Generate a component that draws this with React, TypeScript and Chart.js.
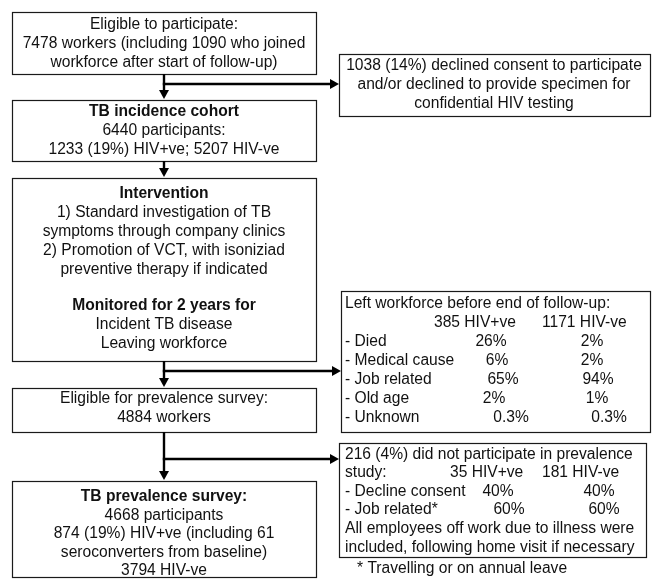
import React, { useEffect, useRef } from "react";
import { Chart, registerables } from "chart.js";

Chart.register(...registerables);

// ---------- DATA (text content of the flow diagram) ----------
const eligibleLines = [
  "Eligible to participate:",
  "7478 workers (including 1090 who joined",
  "workforce after start of follow-up)",
];
const cohortLines = [
  "TB incidence cohort",
  "6440 participants:",
  "1233 (19%) HIV+ve; 5207 HIV-ve",
];
const interventionLines = [
  "Intervention",
  "1) Standard investigation of TB",
  "symptoms through company clinics",
  "2) Promotion of VCT, with isoniziad",
  "preventive therapy if indicated",
  "Monitored for 2 years for",
  "Incident TB disease",
  "Leaving workforce",
];
const prevEligibleLines = ["Eligible for prevalence survey:", "4884 workers"];
const prevSurveyLines = [
  "TB prevalence survey:",
  "4668 participants",
  "874 (19%) HIV+ve (including 61",
  "seroconverters from baseline)",
  "3794 HIV-ve",
];
const declinedLines = [
  "1038 (14%) declined consent to participate",
  "and/or declined to provide specimen for",
  "confidential HIV testing",
];
const leftTitle = "Left workforce before end of follow-up:";
const leftGroups = ["385 HIV+ve", "1171 HIV-ve"];
const leftCategories = ["- Died", "- Medical cause", "- Job related", "- Old age", "- Unknown"];
const leftHivPos = ["26%", "6%", "65%", "2%", "0.3%"];
const leftHivNeg = ["2%", "2%", "94%", "1%", "0.3%"];
const nonPartTitle = "216 (4%) did not participate in prevalence";
const nonPartLead = "study:";
const nonPartGroups = ["35 HIV+ve", "181 HIV-ve"];
const nonPartCategories = ["- Decline consent", "- Job related*"];
const nonPartHivPos = ["40%", "60%"];
const nonPartHivNeg = ["40%", "60%"];
const nonPartNotes = [
  "All employees off work due to illness were",
  "included, following home visit if necessary",
];
const footnote = "* Travelling or on annual leave";

// ---------- LAYOUT (diagram coordinates, same units as the scales) ----------
const W = 652;
const H = 585;
const MAIN_X = 164;
const FONT_SIZE = 15.6;
const boxes = {
  b1: [12, 12, 316, 74],
  b2: [12, 100, 316, 161],
  b3: [12, 178, 316, 361],
  b4: [12, 388, 316, 432],
  b5: [12, 481, 316, 577],
  r1: [339, 54, 650, 116],
  r2: [341, 291, 650, 432],
  r3: [339, 443, 646, 557],
};
const rowsB1 = [25, 44, 63];
const rowsB2 = [112, 131, 150];
const rowsB3 = [194, 213, 232, 251, 270, 306, 325, 344];
const boldB3 = [true, false, false, false, false, true, false, false];
const rowsB4 = [399, 418];
const rowsB5 = [497, 516, 534, 553, 571];
const rowsR1 = [66, 85, 104];
const rowsR2 = [304, 323, 342, 361, 380, 399, 418];
const rowsR3 = [455, 473, 492, 510, 529, 548];
const leftPosX = [491, 497, 503, 494, 511];
const leftNegX = [592, 592, 598, 597, 609];
const nonPartPosX = [498, 509];
const nonPartNegX = [599, 604];
const arrows = [
  { x: MAIN_X, y1: 74, y2: 99, branchY: 84, branchTo: 339 },
  { x: MAIN_X, y1: 161, y2: 177 },
  { x: MAIN_X, y1: 361, y2: 387, branchY: 371, branchTo: 341 },
  { x: MAIN_X, y1: 432, y2: 480, branchY: 459, branchTo: 339 },
];

const FONT = '"Liberation Sans", Arial, Helvetica, sans-serif';

const flowPlugin = {
  id: "flow",
  afterDraw(chart: any) {
    const ctx = chart.ctx as CanvasRenderingContext2D;
    const xs = chart.scales.x;
    const ys = chart.scales.y;
    const px = (v: number) => xs.getPixelForValue(v);
    const py = (v: number) => ys.getPixelForValue(v);

    ctx.save();
    ctx.fillStyle = "#ffffff";
    ctx.fillRect(0, 0, chart.width, chart.height);

    // boxes
    ctx.strokeStyle = "#1a1a1a";
    ctx.lineWidth = 1.2;
    Object.values(boxes).forEach(([x1, y1, x2, y2]) => {
      const a = Math.round(px(x1)) + 0.5;
      const b = Math.round(py(y1)) + 0.5;
      const c = Math.round(px(x2)) + 0.5;
      const d = Math.round(py(y2)) + 0.5;
      ctx.strokeRect(a, b, c - a, d - b);
    });

    // arrows
    ctx.strokeStyle = "#000";
    ctx.fillStyle = "#000";
    ctx.lineWidth = 2.4;
    const head = 9;
    const half = 5;
    arrows.forEach((ar) => {
      const x = px(ar.x);
      ctx.beginPath();
      ctx.moveTo(x, py(ar.y1));
      ctx.lineTo(x, py(ar.y2) - head + 1);
      ctx.stroke();
      ctx.beginPath();
      ctx.moveTo(x - half, py(ar.y2) - head);
      ctx.lineTo(x + half, py(ar.y2) - head);
      ctx.lineTo(x, py(ar.y2));
      ctx.closePath();
      ctx.fill();
      if (ar.branchY !== undefined && ar.branchTo !== undefined) {
        const y = py(ar.branchY);
        const xt = px(ar.branchTo);
        ctx.beginPath();
        ctx.moveTo(x - 1.2, y);
        ctx.lineTo(xt - head + 1, y);
        ctx.stroke();
        ctx.beginPath();
        ctx.moveTo(xt - head, y - half);
        ctx.lineTo(xt - head, y + half);
        ctx.lineTo(xt, y);
        ctx.closePath();
        ctx.fill();
      }
    });

    // text helper
    const text = (
      s: string,
      x: number,
      y: number,
      align: CanvasTextAlign = "center",
      bold = false
    ) => {
      ctx.font = `${bold ? "bold " : ""}${FONT_SIZE}px ${FONT}`;
      ctx.textAlign = align;
      ctx.textBaseline = "middle";
      ctx.fillStyle = "#111";
      ctx.fillText(s, px(x), py(y));
    };

    const cx = (k: keyof typeof boxes) => (boxes[k][0] + boxes[k][2]) / 2;

    eligibleLines.forEach((s, i) => text(s, cx("b1"), rowsB1[i]));
    cohortLines.forEach((s, i) => text(s, cx("b2"), rowsB2[i], "center", i === 0));
    interventionLines.forEach((s, i) => text(s, cx("b3"), rowsB3[i], "center", boldB3[i]));
    prevEligibleLines.forEach((s, i) => text(s, cx("b4"), rowsB4[i]));
    prevSurveyLines.forEach((s, i) => text(s, cx("b5"), rowsB5[i], "center", i === 0));
    declinedLines.forEach((s, i) => text(s, 494, rowsR1[i]));

    // left workforce table
    const LX = 345;
    text(leftTitle, LX, rowsR2[0], "left");
    text(leftGroups[0], 434, rowsR2[1], "left");
    text(leftGroups[1], 542, rowsR2[1], "left");
    leftCategories.forEach((c, i) => {
      text(c, LX, rowsR2[i + 2], "left");
      text(leftHivPos[i], leftPosX[i], rowsR2[i + 2]);
      text(leftHivNeg[i], leftNegX[i], rowsR2[i + 2]);
    });

    // non-participation table
    text(nonPartTitle, LX, rowsR3[0], "left");
    text(nonPartLead, LX, rowsR3[1], "left");
    text(nonPartGroups[0], 450, rowsR3[1], "left");
    text(nonPartGroups[1], 542, rowsR3[1], "left");
    nonPartCategories.forEach((c, i) => {
      text(c, LX, rowsR3[i + 2], "left");
      text(nonPartHivPos[i], nonPartPosX[i], rowsR3[i + 2]);
      text(nonPartHivNeg[i], nonPartNegX[i], rowsR3[i + 2]);
    });
    nonPartNotes.forEach((s, i) => text(s, LX, rowsR3[i + 4], "left"));

    text(footnote, 357, 569, "left");
    ctx.restore();
  },
};

export default function App() {
  const ref = useRef<HTMLCanvasElement | null>(null);
  useEffect(() => {
    if (!ref.current) return;
    const chart = new Chart(ref.current, {
      type: "scatter",
      data: { datasets: [{ data: [], pointRadius: 0 }] },
      options: {
        responsive: false,
        animation: false,
        devicePixelRatio: 1,
        layout: { padding: 0 },
        scales: {
          x: { type: "linear", min: 0, max: W, display: false },
          y: { type: "linear", min: 0, max: H, reverse: true, display: false },
        },
        plugins: { legend: { display: false }, tooltip: { enabled: false } },
      },
      plugins: [flowPlugin],
    });
    return () => chart.destroy();
  }, []);
  return (
    <div style={{ position: "absolute", left: 0, top: 0, width: W, height: H, background: "#fff" }}>
      <canvas ref={ref} width={W} height={H} style={{ display: "block" }} />
    </div>
  );
}
